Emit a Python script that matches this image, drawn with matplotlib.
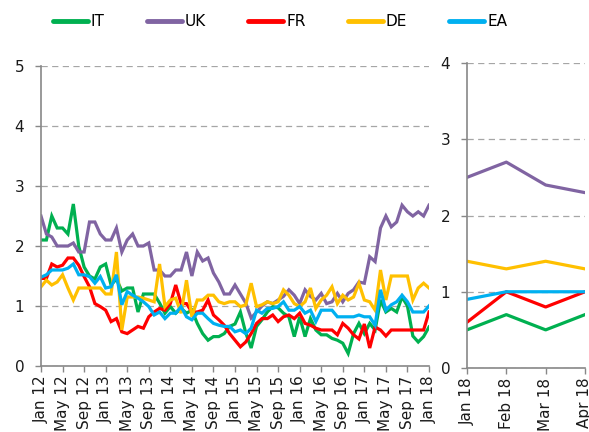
import matplotlib
matplotlib.use("Agg")
import matplotlib.pyplot as plt
import numpy as np

# monthly series Jan 12 .. Jan 18 (73 months)
it = [2.1, 2.1, 2.5, 2.3, 2.3, 2.2, 2.7, 2.0, 1.65, 1.5, 1.45, 1.65, 1.7, 1.35, 1.45, 1.25, 1.3, 1.3, 0.9, 1.2,
      1.2, 1.2, 1.05, 0.88, 0.99, 0.88, 0.96, 0.88, 0.93, 0.71, 0.54, 0.43, 0.49, 0.49, 0.54, 0.66, 0.7, 0.9, 0.55, 0.3,
      0.66, 0.77, 0.9, 0.99, 0.97, 0.88, 0.82, 0.49, 0.82, 0.49, 0.79, 0.6, 0.52, 0.52, 0.46, 0.43, 0.38, 0.21, 0.54, 0.71,
      0.54, 0.71, 0.6, 1.1, 0.9, 0.96, 0.9, 1.15, 1.0, 0.5, 0.4, 0.49, 0.65]
uk = [2.5, 2.2, 2.15, 2.0, 2.0, 2.0, 2.05, 1.9, 1.9, 2.4, 2.4, 2.2, 2.1, 2.1, 2.3, 1.9, 2.1, 2.2, 2.0, 2.0,
      2.05, 1.6, 1.6, 1.5, 1.5, 1.6, 1.6, 1.9, 1.5, 1.9, 1.75, 1.8, 1.55, 1.4, 1.2, 1.2, 1.35, 1.2, 1.05, 0.8,
      0.9, 1.0, 1.07, 1.04, 1.1, 1.16, 1.27, 1.18, 1.04, 1.27, 1.16, 1.1, 1.21, 1.04, 1.07, 1.21, 1.07, 1.21, 1.27, 1.4,
      1.38, 1.82, 1.74, 2.3, 2.5, 2.32, 2.4, 2.68, 2.57, 2.5, 2.57, 2.5, 2.68]
fr = [1.46, 1.46, 1.7, 1.65, 1.68, 1.8, 1.8, 1.68, 1.49, 1.32, 1.04, 0.99, 0.93, 0.74, 0.79, 0.57, 0.54, 0.6, 0.66, 0.63,
      0.82, 0.9, 0.96, 0.93, 1.04, 1.35, 1.04, 1.04, 0.9, 0.9, 0.93, 1.1, 0.85, 0.77, 0.68, 0.54, 0.43, 0.32, 0.4, 0.54,
      0.71, 0.79, 0.79, 0.85, 0.74, 0.82, 0.85, 0.79, 0.88, 0.71, 0.68, 0.63, 0.6, 0.6, 0.6, 0.52, 0.71, 0.63, 0.52, 0.45,
      0.7, 0.3, 0.65, 0.6, 0.5, 0.6, 0.6, 0.6, 0.6, 0.6, 0.6, 0.6, 0.9]
de = [1.32, 1.43, 1.35, 1.4, 1.52, 1.3, 1.1, 1.3, 1.3, 1.3, 1.3, 1.3, 1.2, 1.2, 1.9, 0.6, 1.15, 1.15, 1.15, 1.13,
      1.1, 1.07, 1.7, 0.99, 1.1, 1.13, 0.88, 1.43, 0.82, 1.1, 1.1, 1.18, 1.18, 1.07, 1.04, 1.07, 1.07, 0.99, 1.02, 1.38,
      0.99, 1.02, 1.07, 1.04, 1.07, 1.27, 1.18, 1.04, 0.99, 1.07, 1.3, 0.96, 1.1, 1.18, 1.32, 1.04, 1.18, 1.1, 1.15, 1.38,
      1.1, 1.07, 0.93, 1.6, 1.1, 1.5, 1.5, 1.5, 1.5, 1.1, 1.3, 1.38, 1.3]
ea = [1.48, 1.52, 1.6, 1.6, 1.6, 1.63, 1.7, 1.52, 1.52, 1.49, 1.38, 1.49, 1.3, 1.32, 1.52, 1.02, 1.24, 1.18, 1.13, 1.07,
      0.99, 0.85, 0.9, 0.79, 0.88, 0.88, 0.99, 0.82, 0.77, 0.88, 0.88, 0.79, 0.71, 0.68, 0.66, 0.66, 0.57, 0.6, 0.54, 0.63,
      0.93, 0.88, 0.96, 0.96, 0.99, 1.07, 0.93, 0.93, 0.99, 0.88, 0.93, 0.74, 0.93, 0.93, 0.93, 0.82, 0.82, 0.82, 0.82, 0.85,
      0.82, 0.82, 0.68, 1.27, 0.93, 1.02, 1.07, 1.18, 1.07, 0.9, 0.9, 0.9, 1.0]

tick_labels = ["Jan 12", "May 12", "Sep 12", "Jan 13", "May 13", "Sep 13", "Jan 14", "May 14", "Sep 14",
               "Jan 15", "May 15", "Sep 15", "Jan 16", "May 16", "Sep 16", "Jan 17", "May 17", "Sep 17", "Jan 18"]

# monthly 2018
months18 = ["Jan 18", "Feb 18", "Mar 18", "Apr 18"]
it18 = [0.5, 0.7, 0.5, 0.7]
uk18 = [2.5, 2.7, 2.4, 2.3]
fr18 = [0.6, 1.0, 0.8, 1.0]
de18 = [1.4, 1.3, 1.4, 1.3]
ea18 = [0.9, 1.0, 1.0, 1.0]

names = ["IT", "UK", "FR", "DE", "EA"]
colors = ["#00B050", "#8064A2", "#FF0000", "#FFC000", "#00B0F0"]

plt.rcParams["font.family"] = "DejaVu Sans"
plt.rcParams["font.size"] = 11

fig = plt.figure(figsize=(5.89, 4.32), dpi=100)
ax1 = fig.add_axes([41 / 589, 1 - 366 / 432, (429 - 41) / 589, 300 / 432])
ax2 = fig.add_axes([467 / 589, 1 - 368 / 432, (585 - 467) / 589, 305 / 432])

x = np.arange(len(it))
handles = []
for series, c, n in zip([it, uk, fr, de, ea], colors, names):
    h, = ax1.plot(x, series, color=c, lw=2.3, label=n, solid_joinstyle="miter")
    handles.append(h)

x2 = np.arange(len(months18))
for series, c in zip([it18, uk18, fr18, de18, ea18], colors):
    ax2.plot(x2, series, color=c, lw=2.3)

def style(ax, ymax):
    ax.set_ylim(0, ymax)
    ax.set_yticks(range(ymax + 1))
    for s in ["top", "right"]:
        ax.spines[s].set_visible(False)
    for s in ["left", "bottom"]:
        ax.spines[s].set_color("#888888")
        ax.spines[s].set_linewidth(1.2)
    ax.yaxis.grid(True, linestyle=(0, (5, 3.5)), color="#A6A6A6", lw=0.9)
    ax.set_axisbelow(True)
    ax.tick_params(color="#888888", length=4, width=1, labelcolor="#1a1a1a")
    ax.tick_params(axis="y", pad=8)
    ax.tick_params(axis="x", labelrotation=90, pad=3)

style(ax1, 5)
ax1.set_xlim(0, 72)
ax1.set_xticks(np.arange(0, 73, 4))
ax1.set_xticklabels(tick_labels)

style(ax2, 4)
ax2.set_xlim(0, 3)
ax2.set_xticks(x2)
ax2.set_xticklabels(months18)

leg = fig.legend(handles, names, loc="center", bbox_to_anchor=(280 / 589, 1 - 22 / 432), ncol=5,
                 frameon=False, handlelength=2.3, handletextpad=0.2, columnspacing=2.75)
for l in leg.get_lines():
    l.set_linewidth(3.5)
    l.set_solid_capstyle("round")

fig.savefig("out.png", dpi=100)
